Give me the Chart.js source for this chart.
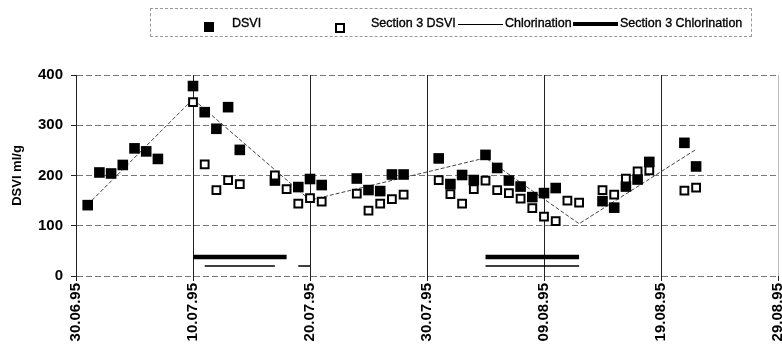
<!DOCTYPE html>
<html>
<head>
<meta charset="utf-8">
<script src="https://cdn.jsdelivr.net/npm/chart.js@4/dist/chart.umd.min.js"></script>
<style>
    html, body { margin: 0; padding: 0; background: #fff; }
    #wrap { position: relative; width: 782px; height: 350px; }
    #chart { position: absolute; left: 0; top: 0; }
    .legend {
        position: absolute; left: 150px; top: 8px; width: 602px; height: 29px;
        border: 1px dashed #999; box-sizing: border-box;
        font-family: "Liberation Sans", Arial, sans-serif; font-size: 12.5px; color: #000;
        -webkit-text-stroke: 0.35px #000;
    }
    .legend span { position: absolute; top: 7px; white-space: nowrap; }
    .legend i { position: absolute; display: block; }
</style>
</head>
<body>
<div id="wrap">
    <canvas id="chart" width="782" height="350"></canvas>
    <div class="legend">
        <i style="left:53px; top:13px; width:10px; height:10px; background:#000;"></i>
        <span style="left:81px;">DSVI</span>
        <i style="left:184px; top:14px; width:6px; height:6px; border:2px solid #000;"></i>
        <span style="left:220px;">Section 3 DSVI</span>
        <i style="left:307px; top:15px; width:45px; height:1px; background:#000;"></i>
        <span style="left:354px;">Chlorination</span>
        <i style="left:422px; top:13px; width:45px; height:4px; background:#000;"></i>
        <span style="left:469px;">Section 3 Chlorination</span>
    </div>
</div>
<script>
    // x = days since 30.06.95
    var dateLabels = ['30.06.95', '10.07.95', '20.07.95', '30.07.95', '09.08.95', '19.08.95', '29.08.95'];

    var dsviDays = [1, 2, 3, 4, 5, 6, 7, 10, 11, 12, 13, 14, 17, 19, 20, 21, 24, 25, 26, 27, 28,
        31, 32, 33, 34, 35, 36, 37, 38, 39, 40, 41, 45, 46, 47, 48, 49, 52, 53];
    var dsviValues = [141, 206, 204, 221, 254, 248, 233, 378, 326, 293, 336, 251, 190, 177, 193, 181, 194, 171, 169, 202, 202,
        234, 183, 201, 191, 241, 215, 190, 178, 157, 165, 175, 149, 136, 178, 192, 227, 265, 218];

    var sec3Days = [10, 11, 12, 13, 14, 17, 18, 19, 20, 21, 24, 25, 26, 27, 28,
        31, 32, 33, 34, 35, 36, 37, 38, 39, 40, 41, 42, 43, 45, 46, 47, 48, 49, 52, 53];
    var sec3Values = [346, 222, 171, 191, 183, 200, 173, 144, 155, 148, 164, 130, 144, 153, 162,
        191, 163, 144, 173, 190, 171, 165, 154, 135, 118, 109, 150, 146, 171, 162, 194, 208, 210, 170, 176];

    var chlorDays = [11, 17, null, 19, 20, null, 35, 43];
    var chlorValues = [20, 20, null, 20, 20, null, 20, 20];

    var sec3ChlorDays = [10, 18, null, 35, 43];
    var sec3ChlorValues = [38, 38, null, 38, 38];

    var trendDays = [1, 10, 20, 35, 43, 53];
    var trendValues = [142, 352, 151, 235, 104, 252];

    function toPoints(xs, ys) {
        return xs.map(function (x, i) {
            if (x === null) {
                return { x: (xs[i - 1] + xs[i + 1]) / 2, y: null };
            }
            return { x: x, y: ys[i] };
        });
    }

    var tickFont = { family: 'Liberation Sans, Arial, sans-serif', size: 15, weight: 'bold' };

    new Chart(document.getElementById('chart'), {
        type: 'line',
        data: {
            datasets: [
                {
                    label: 'Section 3 DSVI',
                    data: toPoints(sec3Days, sec3Values),
                    showLine: false,
                    pointStyle: 'rect',
                    pointRadius: 5.5,
                    pointBackgroundColor: '#fff',
                    pointBorderColor: '#000',
                    pointBorderWidth: 2,
                    order: 0
                },
                {
                    label: 'DSVI',
                    data: toPoints(dsviDays, dsviValues),
                    showLine: false,
                    pointStyle: 'rect',
                    pointRadius: 7.5,
                    pointBackgroundColor: '#000',
                    pointBorderWidth: 0,
                    order: 1
                },
                {
                    label: 'trend',
                    data: toPoints(trendDays, trendValues),
                    borderColor: '#444',
                    borderWidth: 1,
                    borderDash: [4, 2],
                    pointRadius: 0,
                    order: 2
                },
                {
                    label: 'Chlorination',
                    data: toPoints(chlorDays, chlorValues),
                    borderColor: '#000',
                    borderWidth: 1.5,
                    pointRadius: 0,
                    spanGaps: false,
                    order: 3
                },
                {
                    label: 'Section 3 Chlorination',
                    data: toPoints(sec3ChlorDays, sec3ChlorValues),
                    borderColor: '#000',
                    borderWidth: 4.5,
                    pointRadius: 0,
                    spanGaps: false,
                    order: 3
                }
            ]
        },
        options: {
            responsive: false,
            devicePixelRatio: 1,
            animation: false,
            layout: {
                autoPadding: false,
                padding: { top: 75, right: 4, bottom: 0, left: 0 }
            },
            plugins: {
                legend: { display: false },
                tooltip: { enabled: false }
            },
            scales: {
                x: {
                    type: 'linear',
                    min: 0,
                    max: 60,
                    afterFit: function (scale) {
                        scale.height = 74;
                        scale.paddingLeft = 0;
                        scale.paddingRight = 0;
                    },
                    ticks: {
                        stepSize: 10,
                        minRotation: 90,
                        maxRotation: 90,
                        padding: 2,
                        color: '#000',
                        font: tickFont,
                        callback: function (value) {
                            return dateLabels[Math.round(value / 10)];
                        }
                    },
                    grid: {
                        color: function (ctx) {
                            return ctx.tick && ctx.tick.value === 60 ? '#bbb' : '#222';
                        },
                        tickColor: '#222',
                        tickLength: 5
                    },
                    border: { display: false }
                },
                y: {
                    min: 0,
                    max: 400,
                    afterFit: function (scale) {
                        scale.width = 76;
                        scale.paddingTop = 0;
                        scale.paddingBottom = 0;
                    },
                    ticks: {
                        stepSize: 100,
                        padding: 8,
                        color: '#000',
                        font: tickFont
                    },
                    title: {
                        display: true,
                        text: 'DSVI ml/g',
                        color: '#000',
                        padding: { top: 10, bottom: 0 },
                        font: { family: 'Liberation Sans, Arial, sans-serif', size: 13, weight: 'bold' }
                    },
                    grid: {
                        color: '#777',
                        tickColor: '#222',
                        tickLength: 5
                    },
                    border: { display: true, color: '#222', dash: [6, 3] }
                }
            }
        }
    });
</script>
</body>
</html>
